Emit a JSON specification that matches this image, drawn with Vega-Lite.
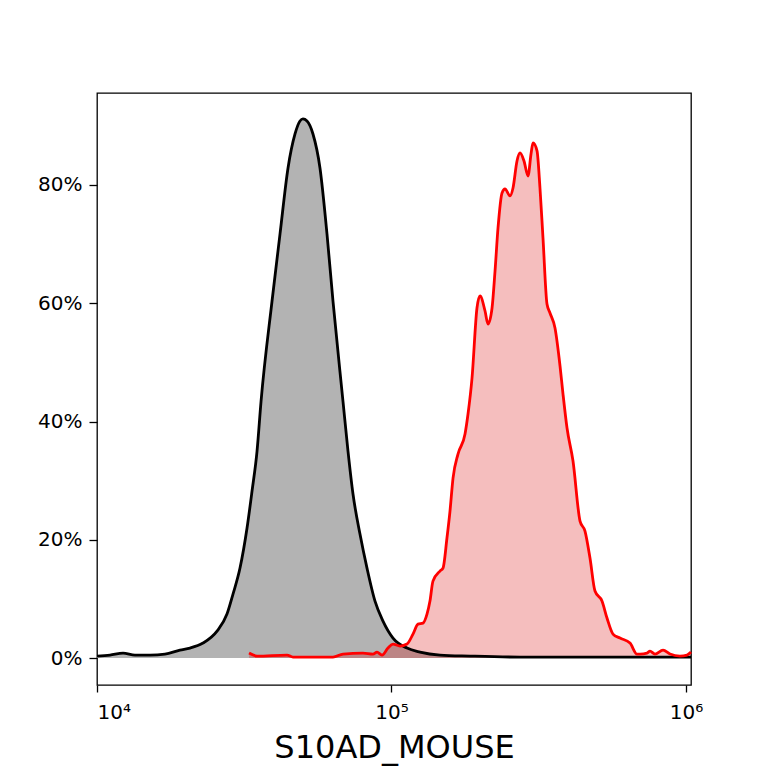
{
  "$schema": "https://vega.github.io/schema/vega-lite/v6.json",
  "width": 594,
  "height": 592,
  "autosize": "none",
  "padding": {"left": 97, "top": 93, "right": 77, "bottom": 83},
  "background": "white",
  "datasets": {
    "control": [
      {"x": 10000, "y": 0.0034}, {"x": 11070, "y": 0.0051}, {"x": 12260, "y": 0.0085},
      {"x": 13460, "y": 0.0051}, {"x": 15140, "y": 0.0051}, {"x": 17010, "y": 0.0068},
      {"x": 19130, "y": 0.0135}, {"x": 20690, "y": 0.0169}, {"x": 22900, "y": 0.0254},
      {"x": 25560, "y": 0.0457}, {"x": 27630, "y": 0.0744}, {"x": 28960, "y": 0.1082},
      {"x": 30590, "y": 0.1522}, {"x": 32320, "y": 0.2199}, {"x": 33610, "y": 0.2825},
      {"x": 34950, "y": 0.3501}, {"x": 36060, "y": 0.4342},
      {"x": 39290, "y": 0.6034}, {"x": 41830, "y": 0.7172}, {"x": 44530, "y": 0.8288},
      {"x": 47030, "y": 0.8862}, {"x": 48900, "y": 0.9082}, {"x": 50060, "y": 0.9116},
      {"x": 51650, "y": 0.9082}, {"x": 54120, "y": 0.8862}, {"x": 57170, "y": 0.8288},
      {"x": 60390, "y": 0.7172}, {"x": 63290, "y": 0.6034},
      {"x": 68440, "y": 0.4342}, {"x": 71170, "y": 0.3501}, {"x": 74010, "y": 0.2774},
      {"x": 78160, "y": 0.2097}, {"x": 82570, "y": 0.1522}, {"x": 87900, "y": 0.0964},
      {"x": 93570, "y": 0.0626}, {"x": 101200, "y": 0.0338}, {"x": 112900, "y": 0.0169},
      {"x": 125000, "y": 0.0101}, {"x": 146100, "y": 0.0051}, {"x": 184800, "y": 0.0034},
      {"x": 273200, "y": 0.0017}, {"x": 436700, "y": 0.0017}, {"x": 698100, "y": 0.0017},
      {"x": 1040000, "y": 0.0017}
    ],
    "sample": [
      {"x": 32830, "y": 0.0085}, {"x": 34950, "y": 0.0034}, {"x": 44180, "y": 0.0051},
      {"x": 46290, "y": 0.0017}, {"x": 63290, "y": 0.0017}, {"x": 68440, "y": 0.0068},
      {"x": 80020, "y": 0.0085}, {"x": 86520, "y": 0.0068}, {"x": 89300, "y": 0.0101},
      {"x": 92840, "y": 0.0051}, {"x": 97300, "y": 0.0169}, {"x": 101200, "y": 0.0237},
      {"x": 106900, "y": 0.0203}, {"x": 112900, "y": 0.0237}, {"x": 118300, "y": 0.0406},
      {"x": 123000, "y": 0.0575}, {"x": 127900, "y": 0.0592}, {"x": 132000, "y": 0.0744},
      {"x": 135100, "y": 0.0964}, {"x": 138300, "y": 0.1302}, {"x": 146100, "y": 0.1471},
      {"x": 149600, "y": 0.1522}, {"x": 154300, "y": 0.203}, {"x": 158000, "y": 0.2486},
      {"x": 161800, "y": 0.3044}, {"x": 168200, "y": 0.345}, {"x": 177700, "y": 0.3789},
      {"x": 181900, "y": 0.4127}, {"x": 187700, "y": 0.4736}, {"x": 195100, "y": 0.592},
      {"x": 199800, "y": 0.6123}, {"x": 207800, "y": 0.5869}, {"x": 212700, "y": 0.5649},
      {"x": 219500, "y": 0.592}, {"x": 224700, "y": 0.6545}, {"x": 230000, "y": 0.7273},
      {"x": 237300, "y": 0.7865}, {"x": 242900, "y": 0.7932}, {"x": 252600, "y": 0.7814},
      {"x": 258600, "y": 0.7949}, {"x": 266800, "y": 0.8406}, {"x": 273200, "y": 0.8541},
      {"x": 281800, "y": 0.8406}, {"x": 290800, "y": 0.8152}, {"x": 297700, "y": 0.8524},
      {"x": 302400, "y": 0.871}, {"x": 312000, "y": 0.8575}, {"x": 319300, "y": 0.7949},
      {"x": 326900, "y": 0.7104}, {"x": 337300, "y": 0.5987}, {"x": 345300, "y": 0.5835},
      {"x": 359100, "y": 0.5581}, {"x": 373500, "y": 0.4939}, {"x": 382300, "y": 0.4465},
      {"x": 394500, "y": 0.389}, {"x": 413400, "y": 0.3332}, {"x": 436700, "y": 0.2317},
      {"x": 454000, "y": 0.2148}, {"x": 472100, "y": 0.1691}, {"x": 490900, "y": 0.1133},
      {"x": 518500, "y": 0.0964}, {"x": 539200, "y": 0.0677}, {"x": 565100, "y": 0.0406},
      {"x": 597000, "y": 0.0338}, {"x": 645500, "y": 0.0254}, {"x": 681800, "y": 0.0068},
      {"x": 698100, "y": 0.0068}, {"x": 737400, "y": 0.0085}, {"x": 754800, "y": 0.0118},
      {"x": 784800, "y": 0.0068}, {"x": 835600, "y": 0.0135}, {"x": 882500, "y": 0.0068},
      {"x": 954200, "y": 0.0034}, {"x": 1008000, "y": 0.0051}, {"x": 1040000, "y": 0.0101}
    ]
  },
  "encoding": {
    "x": {
      "field": "x",
      "type": "quantitative",
      "scale": {"type": "log", "domain": [10000, 1040000], "nice": false},
      "axis": {
        "title": "S10AD_MOUSE",
        "values": [10000, 100000, 1000000],
        "labelExpr": "datum.value == 10000 ? '10⁴' : datum.value == 100000 ? '10⁵' : '10⁶'",
        "titleFontSize": 32,
        "titleBaseline": "alphabetic",
        "titleY": 72,
        "labelFontSize": 20,
        "labelBaseline": "alphabetic",
        "labelPadding": 26,
        "tickSize": 7
      }
    },
    "y": {
      "field": "y",
      "type": "quantitative",
      "scale": {"domain": [-0.0455, 0.9555], "nice": false, "zero": false},
      "axis": {
        "title": null,
        "values": [0, 0.2, 0.4, 0.6, 0.8],
        "format": ".0%",
        "labelFontSize": 20,
        "labelPadding": 7,
        "tickSize": 8
      }
    }
  },
  "layer": [
    {
      "data": {"name": "control"},
      "mark": {"type": "area", "color": "#b3b3b3", "interpolate": "monotone"},
      "encoding": {"y2": {"datum": 0}}
    },
    {
      "data": {"name": "sample"},
      "mark": {"type": "area", "color": "#d80000", "opacity": 0.255, "interpolate": "monotone"},
      "encoding": {"y2": {"datum": 0}}
    },
    {
      "data": {"name": "control"},
      "mark": {"type": "line", "color": "black", "strokeWidth": 2.8, "interpolate": "monotone"},
      "encoding": {}
    },
    {
      "data": {"name": "sample"},
      "mark": {"type": "line", "color": "red", "strokeWidth": 2.8, "interpolate": "monotone"},
      "encoding": {}
    }
  ],
  "config": {
    "font": "DejaVu Sans",
    "view": {"stroke": "black", "strokeWidth": 1.3},
    "axis": {
      "grid": false,
      "domain": false,
      "tickColor": "black",
      "tickWidth": 1.3,
      "labelColor": "black",
      "titleColor": "black",
      "labelFont": "DejaVu Sans",
      "titleFont": "DejaVu Sans",
      "titleFontWeight": "normal"
    }
  }
}
